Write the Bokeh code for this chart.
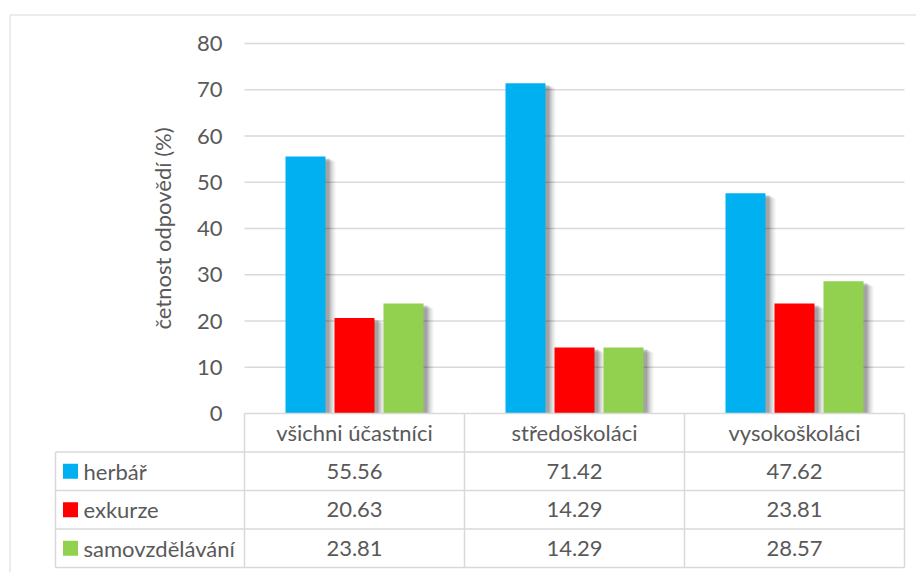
import math
from bokeh.plotting import figure
from bokeh.models import Range1d
from bokeh.core.properties import value
from bokeh.embed import file_html
from bokeh.resources import INLINE

# ---------------- data ----------------
categories = ["všichni účastníci", "středoškoláci", "vysokoškoláci"]
series_names = ["herbář", "exkurze", "samovzdělávání"]
herbar = [55.56, 71.42, 47.62]
exkurze = [20.63, 14.29, 23.81]
samovzdelavani = [23.81, 14.29, 28.57]
series_values = [herbar, exkurze, samovzdelavani]
series_colors = ["#00b0f0", "#ff0000", "#92d050"]
y_ticks = [0, 10, 20, 30, 40, 50, 60, 70, 80]
y_label = "četnost odpovědí (%)"

# ---------------- geometry (canvas pixels) ----------------
W, H = 916, 572
CHART_L, CHART_T = 9.5, 14.5      # outer chart-area border
AREA_L, CAT_W = 244, 220          # plot area left edge, width of one category
ZERO_Y, UNIT_PX = 413, 4.625      # pixel row of value 0, pixels per unit
TABLE_L = 55                      # left edge of the legend column
ROW_PX = 38.5
BAR_PX, STEP_PX = 40, 49

def xd(px):
    return (px - AREA_L) / CAT_W

def yd(py):
    return (ZERO_Y - py) / UNIT_PX

FONT = value("Lato")
TXT = "#595959"
GRID = "#d9d9d9"
FS = "22px"

p = figure(
    frame_width=W, frame_height=H,
    min_border_left=0, min_border_right=0, min_border_top=0, min_border_bottom=0,
    x_range=Range1d(xd(0), xd(W)),
    y_range=Range1d(yd(H), yd(0)),
    x_axis_location=None, y_axis_location=None,
    output_backend="svg", toolbar_location=None,
)
p.grid.visible = False
p.outline_line_color = None
p.background_fill_color = "white"
p.border_fill_color = "white"

# chart-area border (left and top edges are visible in the window)
p.segment(x0=[xd(CHART_L), xd(CHART_L)], x1=[xd(CHART_L), xd(W)],
          y0=[yd(CHART_T), yd(CHART_T)], y1=[yd(H), yd(CHART_T)],
          line_color=GRID, line_width=1)

ncat = len(categories)
centers = [i + 0.5 for i in range(ncat)]

# gridlines
p.segment(x0=[0] * (len(y_ticks) - 1), x1=[ncat] * (len(y_ticks) - 1),
          y0=y_ticks[1:], y1=y_ticks[1:], line_color=GRID, line_width=1.5)

# y tick labels
p.text(x=[0] * len(y_ticks), y=y_ticks, text=[str(t) for t in y_ticks],
       x_offset=-22, text_align="right", text_baseline="middle",
       text_font=FONT, text_font_size=FS, text_color=TXT)

# y axis title
p.text(x=[xd(162)], y=[(y_ticks[0] + y_ticks[-1]) / 2], text=[y_label],
       angle=math.pi / 2, text_align="center", text_baseline="middle",
       text_font=FONT, text_font_size=FS, text_color=TXT)

# bars with soft shadow
bw = BAR_PX / CAT_W
for si, (vals, col) in enumerate(zip(series_values, series_colors)):
    off = (si - 1) * STEP_PX / CAT_W
    xs = [c + off for c in centers]
    for dx, dy, a in [(10, 5, 0.05), (8, 4, 0.08), (6, 3, 0.12), (4, 2, 0.16)]:
        p.vbar(x=[x + dx / CAT_W for x in xs], width=bw,
               top=[v - dy / UNIT_PX for v in vals], bottom=0,
               fill_color="black", fill_alpha=a, line_color=None)
    p.vbar(x=xs, width=bw, top=vals, bottom=0, fill_color=col, line_color=None)

# ---------------- data table ----------------
row_h = ROW_PX / UNIT_PX
nrows = len(series_names) + 1
row_edges = [-(k * row_h) for k in range(nrows + 1)]
left = xd(TABLE_L)

# horizontal lines
p.segment(x0=[0], x1=[ncat], y0=[0], y1=[0], line_color=GRID, line_width=1.5)
p.segment(x0=[left] * nrows, x1=[ncat] * nrows, y0=row_edges[1:], y1=row_edges[1:],
          line_color=GRID, line_width=1.5)
# vertical lines
p.segment(x0=list(range(ncat + 1)), x1=list(range(ncat + 1)),
          y0=[0] * (ncat + 1), y1=[row_edges[-1]] * (ncat + 1),
          line_color=GRID, line_width=1.5)
p.segment(x0=[left], x1=[left], y0=[row_edges[1]], y1=[row_edges[-1]],
          line_color=GRID, line_width=1.5)

# header
hdr_y = (row_edges[0] + row_edges[1]) / 2
p.text(x=centers, y=[hdr_y] * ncat, text=categories, text_align="center",
       text_baseline="middle", text_font=FONT, text_font_size=FS, text_color=TXT)

# rows
for si, (name, vals, col) in enumerate(zip(series_names, series_values, series_colors)):
    ry = (row_edges[si + 1] + row_edges[si + 2]) / 2
    p.text(x=centers, y=[ry] * ncat, text=["%.2f" % v for v in vals],
           text_align="center", text_baseline="middle",
           text_font=FONT, text_font_size=FS, text_color=TXT)
    p.rect(x=[xd(TABLE_L + 15)], y=[ry], width=15, height=15,
           width_units="screen", height_units="screen",
           fill_color=col, line_color=None)
    p.text(x=[xd(TABLE_L + 28)], y=[ry], text=[name], text_align="left",
           text_baseline="middle", text_font=FONT, text_font_size=FS, text_color=TXT)

open("out.html", "w").write(file_html(p, INLINE))
